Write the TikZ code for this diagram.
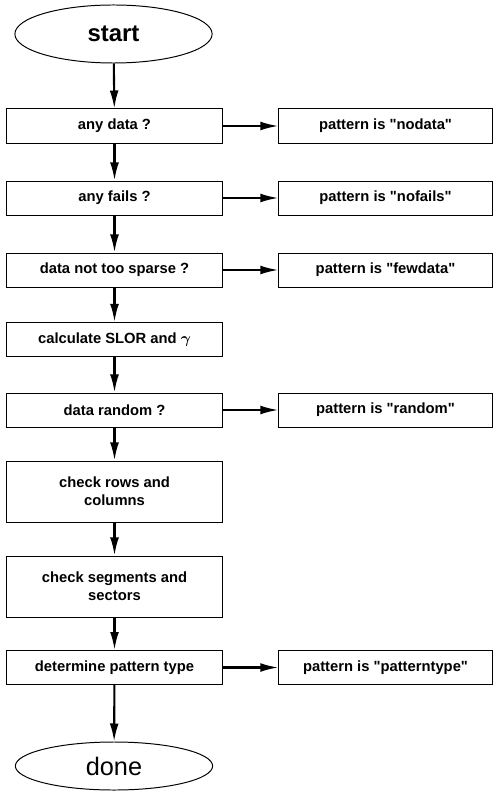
\documentclass[tikz,border=0pt]{standalone}
\usepackage{fontspec}
\setmainfont{Liberation Sans}
\usepackage{bm}
\usetikzlibrary{arrows.meta, shapes.geometric}
\newcommand*{\qt}{\textquotedbl}
\tikzstyle{step box} = [
    draw,
    line width=0.7pt,
    rectangle,
    minimum width=5.375cm,
    minimum height=0.85cm,
    inner sep=1pt,
    align=center,
    font=\fontsize{10.5}{13}\selectfont\bfseries
]
\tikzstyle{result} = [step box, minimum width=5.325cm]
\tikzstyle{terminal} = [
    draw,
    line width=0.7pt,
    ellipse,
    minimum width=4.93cm,
    inner sep=0pt
]
\tikzstyle{path} = [-{Latex[length=4.5mm, width=2.2mm]}, line width=1.5pt]

\begin{document}
\begin{tikzpicture}[x=0.025cm, y=-0.025cm]
    \useasboundingbox (0, 0) rectangle (494, 799);

    % Nodes.
    \node (start) [terminal, minimum height=1.45cm, font=\fontsize{17}{20}\selectfont\bfseries] at (113.5, 34) {start};

    \node (any data) [step box] at (114.5, 126) {any data ?};
    \node (any fails) [step box] at (114.5, 198) {any fails ?};
    \node (sparse) [step box] at (114.5, 270) {data not too sparse ?};
    \node (slor) [step box] at (114.5, 339.5) {calculate SLOR and $\bm{\gamma}$};
    \node (random) [step box] at (114.5, 410) {data random ?};
    \node (rows) [step box, minimum height=1.525cm] at (114.5, 491.5) {check rows and\\columns};
    \node (segments) [step box, minimum height=1.525cm] at (114.5, 586.5) {check segments and\\sectors};
    \node (type) [step box] at (114.5, 667.5) {determine pattern type};

    \node (done) [terminal, minimum height=1.2cm, font=\fontsize{18}{21}\selectfont] at (114, 766) {done};

    \node (nodata) [result] at (385.5, 126) {pattern is \qt nodata\qt};
    \node (nofails) [result] at (385.5, 198) {pattern is \qt nofails\qt};
    \node (fewdata) [result] at (385.5, 270) {pattern is \qt fewdata\qt};
    \node (is random) [result] at (385.5, 410) {pattern is \qt random\qt};
    \node (is type) [result] at (385.5, 667.5) {pattern is \qt patterntype\qt};

    % Paths.
    \draw [path] (start) -- (any data);
    \draw [path] (any data) -- (any fails);
    \draw [path] (any fails) -- (sparse);
    \draw [path] (sparse) -- (slor);
    \draw [path] (slor) -- (random);
    \draw [path] (random) -- (rows);
    \draw [path] (rows) -- (segments);
    \draw [path] (segments) -- (type);
    \draw [path] (type) -- (done);

    \draw [path] (any data) -- (nodata);
    \draw [path] (any fails) -- (nofails);
    \draw [path] (sparse) -- (fewdata);
    \draw [path] (random) -- (is random);
    \draw [path] (type) -- (is type);
\end{tikzpicture}
\end{document}
